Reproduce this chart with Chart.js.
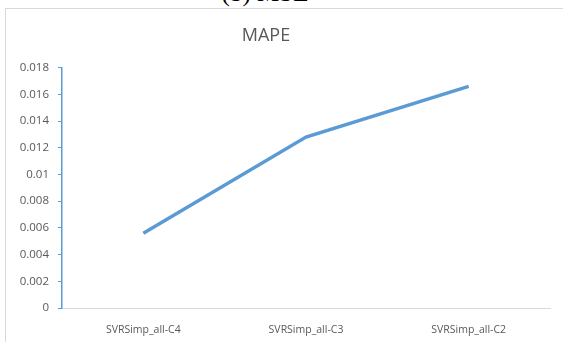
<!DOCTYPE html>
<html>
<head>
<meta charset="utf-8">
<script src="https://cdn.jsdelivr.net/npm/chart.js@4"></script>
<style>
  html, body { margin: 0; padding: 0; background: #fff; }
  body { width: 563px; height: 342px; position: relative; overflow: hidden; }
  .caption {
    position: absolute; left: 0; width: 530px; top: -20px;
    text-align: center; font: 25px/25px "Liberation Serif", "DejaVu Serif", serif; color: #000;
  }
  .frame {
    position: absolute; left: 5px; top: 8px; width: 600px; height: 400px;
    border: 1px solid #d9d9d9; box-sizing: border-box;
  }
  #wrap { position: absolute; left: 0; top: 0; width: 563px; height: 342px; }
</style>
</head>
<body>
<div class="caption">(b) MSE</div>
<div class="frame"></div>
<div id="wrap"><canvas id="mapeChart"></canvas></div>
<script>
// categories and MAPE values
const categories = ["SVRSimp_all-C4", "SVRSimp_all-C3", "SVRSimp_all-C2"];
const mapeValues = [0.0056, 0.0128, 0.0166];
const yTicks = [0, 0.002, 0.004, 0.006, 0.008, 0.01, 0.012, 0.014, 0.016, 0.018];

const textGray = "#595959";
const lineBlue = "#5b9bd5";

// keep the title centred over the chart box rather than the whole canvas
const titleShift = {
  id: "titleShift",
  afterLayout(chart) {
    if (chart.titleBlock) chart.titleBlock.right = 532;
  },
};

document.addEventListener("DOMContentLoaded", function () {
  const ctx = document.getElementById("mapeChart").getContext("2d");
  new Chart(ctx, {
    type: "line",
    data: {
      labels: categories,
      datasets: [
        {
          label: "MAPE",
          data: mapeValues,
          borderColor: lineBlue,
          borderWidth: 3.5,
          pointRadius: 0,
          tension: 0,
          fill: false,
        },
      ],
    },
    plugins: [titleShift],
    options: {
      responsive: true,
      maintainAspectRatio: false,
      animation: false,
      layout: { padding: { left: 0, right: 13, top: 0, bottom: 0 } },
      plugins: {
        legend: { display: false },
        tooltip: { enabled: false },
        title: {
          display: true,
          text: "MAPE",
          color: textGray,
          font: { family: "'Open Sans', sans-serif", size: 18, weight: "normal" },
          padding: { top: 25, bottom: 21 },
        },
      },
      scales: {
        x: {
          offset: true,
          grid: { display: true, drawOnChartArea: false, drawTicks: false },
          border: { color: "#d9d9d9", width: 1 },
          ticks: {
            color: textGray,
            padding: 16,
            maxRotation: 0,
            font: { family: "'Open Sans', sans-serif", size: 10.5 },
          },
          afterFit: (scale) => { scale.height = 34; },
        },
        y: {
          min: 0,
          max: 0.018,
          afterBuildTicks: (scale) => {
            scale.ticks = yTicks.map((v) => ({ value: v }));
          },
          grid: { display: true, drawOnChartArea: false, drawTicks: true, tickLength: 4, color: lineBlue },
          border: { color: lineBlue, width: 1.5 },
          ticks: {
            color: textGray,
            padding: 9,
            font: { family: "'Open Sans', sans-serif", size: 11.5 },
            callback: (value) => String(Number(value.toFixed(3))),
          },
          afterFit: (scale) => { scale.width = 62; },
        },
      },
    },
  });
});
</script>
</body>
</html>
